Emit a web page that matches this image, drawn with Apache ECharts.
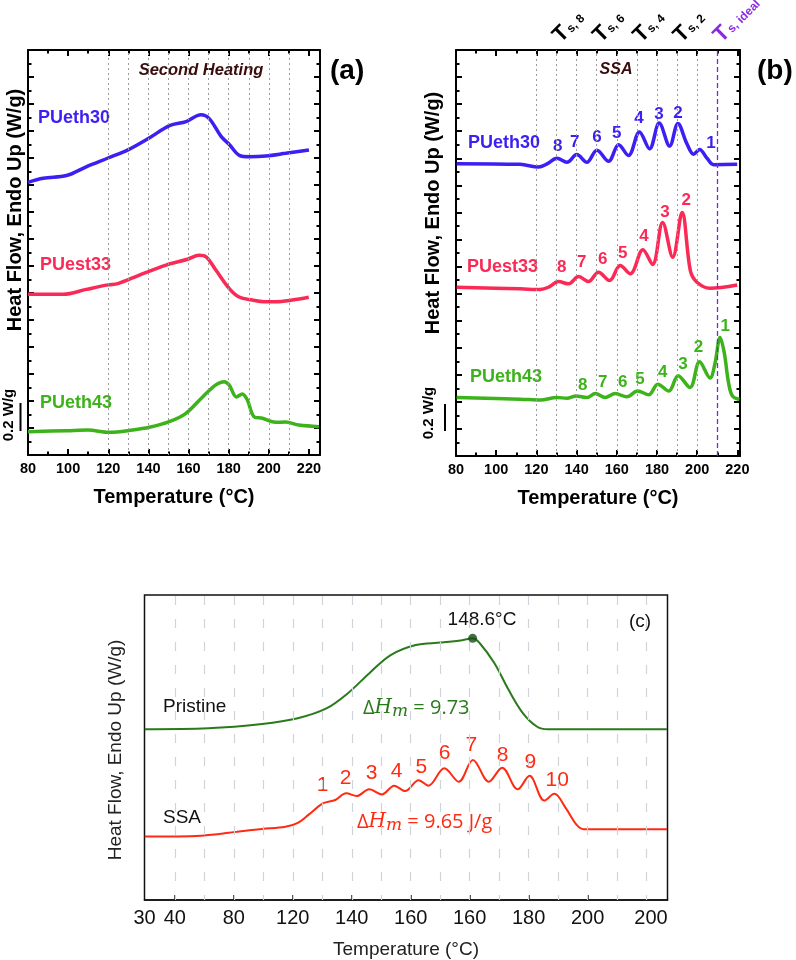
<!DOCTYPE html>
<html><head><meta charset="utf-8">
<script src="https://cdn.jsdelivr.net/npm/echarts@6/dist/echarts.min.js"></script>
<style>html,body{margin:0;padding:0;background:#fff}#c{width:796px;height:960px}</style>
</head><body><div id="c"></div><script>
// ---------- Panel (a): second heating ----------
const aEth30 = [[80,2.02],[87.6,2.05],[99.2,2.07],[109,2.135],[119.9,2.20],[129.8,2.26],[140.6,2.35],[150.5,2.44],[158.8,2.47],[166.2,2.52],[170.4,2.49],[176.2,2.36],[180.3,2.30],[185.3,2.22],[190.2,2.21],[198.5,2.215],[208.4,2.235],[220,2.26]];
const aEst33 = [[80,1.19],[97.5,1.19],[109.1,1.227],[119.9,1.26],[124.8,1.27],[135.5,1.333],[148.8,1.407],[159.5,1.45],[165.3,1.48],[168.6,1.47],[173.6,1.37],[180.2,1.235],[185.2,1.17],[191.8,1.148],[197.6,1.136],[203.4,1.136],[211.7,1.148],[219.9,1.168]];
const aEth43 = [[80,0.173],[99,0.18],[109.8,0.185],[120.6,0.168],[132.2,0.185],[140.5,0.205],[150.4,0.247],[158.7,0.309],[167,0.43],[173.6,0.519],[177.7,0.543],[180.2,0.519],[183.9,0.43],[186.8,0.452],[189.3,0.407],[192.6,0.284],[196.8,0.272],[203.4,0.242],[208.3,0.244],[215,0.222],[225,0.21]];
const aGridX = [120,130,140,150,160,170,180,190,200,210];

// ---------- Panel (b): SSA ----------
const bEth30 = [[80.3,2.16],[111.9,2.155],[121,2.135],[125.5,2.16],[130.2,2.20],[135.2,2.17],[140.1,2.227],[145.1,2.17],[150.1,2.26],[155.9,2.178],[160.9,2.30],[165.8,2.22],[171.3,2.395],[176.3,2.27],[181.1,2.46],[186.3,2.29],[190.4,2.457],[194.8,2.31],[198.2,2.23],[201.2,2.264],[204.9,2.20],[208.2,2.153],[219.9,2.155]];
const bEst33 = [[80.3,1.247],[111.9,1.235],[121.9,1.23],[126,1.247],[131,1.289],[136,1.272],[141,1.326],[145.9,1.289],[150.9,1.358],[156.4,1.296],[161.7,1.407],[166.7,1.346],[173,1.524],[177.8,1.415],[182.8,1.726],[187.8,1.469],[192.5,1.80],[196.6,1.37],[199.9,1.284],[206.3,1.24],[219.9,1.264]];
const bEth43 = [[80.3,0.432],[111.9,0.42],[122,0.413],[130.2,0.432],[135.2,0.427],[139.8,0.444],[145.1,0.432],[149.3,0.461],[154.2,0.432],[159.2,0.461],[165,0.437],[170.4,0.48],[175.9,0.452],[180.4,0.531],[185.9,0.48],[190.5,0.593],[196.4,0.506],[201.2,0.696],[206.4,0.576],[208.8,0.68],[211.4,0.876],[213.5,0.76],[215.5,0.55],[217.5,0.444],[221,0.418]];
const bPeakEth30 = [[130.6,2.289,'8'],[139.1,2.319,'7'],[150.1,2.356,'6'],[160.0,2.385,'5'],[171.0,2.496,'4'],[181.0,2.526,'3'],[190.4,2.533,'2'],[206.9,2.311,'1']];
const bPeakEst33 = [[132.6,1.393,'8'],[142.6,1.43,'7'],[153.0,1.452,'6'],[163.0,1.496,'5'],[173.5,1.622,'4'],[184.0,1.80,'3'],[194.5,1.889,'2']];
const bPeakEth43 = [[143.1,0.526,'8'],[153.0,0.541,'7'],[163.0,0.541,'6'],[171.5,0.563,'5'],[182.9,0.615,'4'],[192.9,0.674,'3'],[200.6,0.80,'2'],[214.0,0.956,'1']];
const bGridX = [120,130,140,150,160,170,180,190,200];
const bIdealX = 210;
const bTopVals = [130,150,170,190,210];
const bTopSubs = ['8','6','4','2','ideal'];

// ---------- Panel (c) ----------
const cPristine = [[29.8,56.0],[51.4,56.3],[69.6,57.7],[81.7,59.6],[91.4,62.8],[98.7,67.8],[105.9,74.3],[113.2,80.3],[121.7,83.6],[130.2,84.4],[137.5,85.2],[141.0,85.8],[143.5,84.1],[148.4,77.6],[153.2,68.9],[158.1,61.2],[162.9,56.8],[166.5,56.0],[206.9,56.0]];
const cSSA = [[29.8,20.8],[49,21.1],[61.1,22.4],[69.6,23.3],[77.5,24.0],[81.7,25.3],[85.3,27.9],[90.2,31.7],[94.4,32.8],[98.1,35.0],[101.7,34.1],[105.9,36.3],[110.2,34.6],[114.4,37.5],[118.1,35.7],[122.7,39.3],[126,37.5],[131.4,43.2],[136.3,38.8],[141.1,45.9],[146.5,38.8],[151,43.4],[156.3,36.3],[160.3,40.7],[165.3,32.6],[168.7,34.8],[172.6,30.1],[176.3,24.6],[178.7,23.2],[206.9,23.2]];
const cPeakPoint = [[141.0,85.8]];
const cPeakNums = [[90.1,37.7,'1'],[97.9,39.9,'2'],[106.7,41.5,'3'],[115.2,42.1,'4'],[123.6,43.7,'5'],[131.5,48.1,'6'],[140.6,50.8,'7'],[151.2,47.5,'8'],[160.6,45.3,'9'],[169.7,39.3,'10']];
const cTickVals = [29.7,40,60,80,100,120,140,160,180,201.5];
const cTickLabels = ['30','40','80','120','140','160','160','180','200','200'];
const cMajorTicks = [40,60,80,100,120,140,160,180];
const cGridX = [40,50,60,70,80,90,100,110,120,130,140,150,160,170,180,190,200];

// ---------- styling ----------
const F = "'Liberation Sans', Arial, sans-serif";
const BLUE = '#3c1ff2', RED = '#f92a55', GREEN = '#3cb31a', PURPLE = '#8a2be2', BROWN = '#3a0d0d';
const CGREEN = '#2a7a1c', CRED = '#ff2a12';

function xAB(grid, max, pos, show) {
  return {
    type: 'value', gridIndex: grid, position: pos, min: 80, max: max, interval: 20,
    axisLine: {show: true, onZero: false, lineStyle: {color: '#000', width: 2}},
    axisTick: {show: true, inside: true, length: 6, lineStyle: {color: '#000', width: 2}},
    minorTick: {show: true, splitNumber: 2, length: 3.5, lineStyle: {color: '#000', width: 2}},
    axisLabel: {show: show, color: '#000', fontFamily: F, fontWeight: 'bold', fontSize: 14.5, margin: 6},
    splitLine: {show: false},
    name: show ? 'Temperature (°C)' : '', nameLocation: 'middle', nameGap: 32,
    nameTextStyle: {color: '#000', fontFamily: F, fontWeight: 'bold', fontSize: 20}
  };
}
function yAB(grid, pos) {
  return {
    type: 'value', gridIndex: grid, position: pos, min: 0, max: 3, interval: 0.2,
    axisLine: {show: true, onZero: false, lineStyle: {color: '#000', width: 2}},
    axisTick: {show: true, inside: true, length: 6, lineStyle: {color: '#000', width: 2}},
    minorTick: {show: true, splitNumber: 2, length: 3.5, lineStyle: {color: '#000', width: 2}},
    axisLabel: {show: false}, splitLine: {show: false}
  };
}
function curve(xi, yi, data, color, w) {
  return {type: 'line', xAxisIndex: xi, yAxisIndex: yi, data: data, showSymbol: false, symbol: 'none',
    smooth: 0.35, lineStyle: {color: color, width: w}, z: 3, silent: true};
}
function gridLines(xi, yi, xs, style) {
  return {type: 'line', xAxisIndex: xi, yAxisIndex: yi, data: [], z: 1, silent: true,
    markLine: {silent: true, symbol: ['none', 'none'], label: {show: false}, animation: false,
      lineStyle: style, data: xs.map(v => ({xAxis: v}))}};
}
function peakLabels(xi, yi, data, color, size, weight) {
  return {type: 'scatter', xAxisIndex: xi, yAxisIndex: yi, data: data, symbolSize: 1,
    itemStyle: {color: 'rgba(0,0,0,0)'}, z: 4, silent: true,
    label: {show: true, position: 'inside', formatter: p => p.data[2], color: color, opacity: 1,
      textBorderWidth: 0, fontFamily: F, fontWeight: weight, fontSize: size}};
}

const topRich = {
  T: {fontSize: 22, fontWeight: 'bold', color: '#000', fontFamily: F},
  s: {fontSize: 12, fontWeight: 'bold', color: '#000', fontFamily: F, padding: [6, 0, 0, 1]},
  Tp: {fontSize: 22, fontWeight: 'bold', color: PURPLE, fontFamily: F},
  sp: {fontSize: 12, fontWeight: 'bold', color: PURPLE, fontFamily: F, padding: [6, 0, 0, 1]}
};

const option = {
  backgroundColor: '#fff',
  animation: false,
  grid: [
    {left: 28, top: 50, width: 292, height: 405, show: false, containLabel: false, outerBoundsMode: 'none'},
    {left: 456, top: 50, width: 284, height: 406, show: false, containLabel: false, outerBoundsMode: 'none'},
    {left: 144.5, top: 595, width: 523, height: 305, show: true, borderColor: '#111', borderWidth: 1.5, backgroundColor: 'transparent', containLabel: false, outerBoundsMode: 'none'}
  ],
  xAxis: [
    xAB(0, 225.5, 'bottom', true),
    xAB(0, 225.5, 'top', false),
    xAB(1, 221.3, 'bottom', true),
    Object.assign(xAB(1, 221.3, 'top', false), {
      axisLabel: {show: true, rotate: -45, margin: 11, customValues: bTopVals,
        formatter: v => { const i = bTopVals.indexOf(v); if (i < 0) return '';
          return i === bTopVals.length - 1 ? '{Tp|T}{sp|s, ' + bTopSubs[i] + '}' : '{T|T}{s|s, ' + bTopSubs[i] + '}'; },
        rich: topRich}
    }),
    {
      type: 'value', gridIndex: 2, position: 'bottom', min: 29.7, max: 207.1,
      axisLine: {show: true, onZero: false, lineStyle: {color: '#111', width: 1.5}},
      axisTick: {show: true, inside: true, length: 5, customValues: cMajorTicks, lineStyle: {color: '#111', width: 1.5}},
      axisLabel: {show: true, customValues: cTickVals, color: '#111', fontFamily: F, fontSize: 20, margin: 8,
        formatter: v => { const i = cTickVals.findIndex(t => Math.abs(t - v) < 1e-6); return i >= 0 ? cTickLabels[i] : ''; }},
      splitLine: {show: false},
      name: 'Temperature (°C)', nameLocation: 'middle', nameGap: 40,
      nameTextStyle: {color: '#222', fontFamily: F, fontSize: 19}
    }
  ],
  yAxis: [
    yAB(0, 'left'), yAB(0, 'right'), yAB(1, 'left'), yAB(1, 'right'),
    {type: 'value', gridIndex: 2, min: 0, max: 100, axisLine: {show: false}, axisTick: {show: false},
      axisLabel: {show: false}, splitLine: {show: false}}
  ],
  series: [
    gridLines(0, 0, aGridX, {color: '#9a9a9a', width: 1, type: [2, 3]}),
    gridLines(2, 2, bGridX, {color: '#9a9a9a', width: 1, type: [2, 3]}),
    gridLines(2, 2, [bIdealX], {color: '#7a28e0', width: 1.3, type: [5, 3]}),
    gridLines(4, 4, cGridX, {color: '#cfd4db', width: 1.2, type: [9, 14], dashOffset: 4}),
    curve(0, 0, aEth30, BLUE, 3.5),
    curve(0, 0, aEst33, RED, 3.5),
    curve(0, 0, aEth43, GREEN, 3.5),
    curve(2, 2, bEth30, BLUE, 3.5),
    curve(2, 2, bEst33, RED, 3.5),
    curve(2, 2, bEth43, GREEN, 3.5),
    peakLabels(2, 2, bPeakEth30, BLUE, 17, 'bold'),
    peakLabels(2, 2, bPeakEst33, RED, 17, 'bold'),
    peakLabels(2, 2, bPeakEth43, GREEN, 17, 'bold'),
    curve(4, 4, cPristine, CGREEN, 2),
    curve(4, 4, cSSA, CRED, 2),
    {type: 'scatter', xAxisIndex: 4, yAxisIndex: 4, data: cPeakPoint, symbolSize: 9, itemStyle: {color: '#174a17'}, z: 5, silent: true},
    peakLabels(4, 4, cPeakNums, CRED, 21, 'normal')
  ],
  graphic: [
    // panel (a)
    {type: 'text', x: 15, y: 210, rotation: Math.PI / 2, style: {text: 'Heat Flow, Endo Up (W/g)', x: 0, y: 0, fill: '#000', font: 'bold 20px ' + F, align: 'center', verticalAlign: 'middle', textAlign: 'center', textVerticalAlign: 'middle'}},
    {type: 'text', x: 9, y: 415, rotation: Math.PI / 2, style: {text: '0.2 W/g', x: 0, y: 0, fill: '#000', font: 'bold 15px ' + F, align: 'center', verticalAlign: 'middle', textAlign: 'center', textVerticalAlign: 'middle'}},
    {type: 'line', shape: {x1: 20.5, y1: 403, x2: 20.5, y2: 431}, style: {stroke: '#000', lineWidth: 2}},
    {type: 'text', x: 201, y: 70, style: {text: 'Second Heating', x: 0, y: 0, fill: BROWN, font: 'italic bold 16.5px ' + F, align: 'center', verticalAlign: 'middle', textAlign: 'center', textVerticalAlign: 'middle'}},
    {type: 'text', x: 38, y: 118, style: {text: 'PUeth30', x: 0, y: 0, fill: BLUE, font: 'bold 18px ' + F, align: 'left', verticalAlign: 'middle', textAlign: 'left', textVerticalAlign: 'middle'}},
    {type: 'text', x: 40, y: 265, style: {text: 'PUest33', x: 0, y: 0, fill: RED, font: 'bold 18px ' + F, align: 'left', verticalAlign: 'middle', textAlign: 'left', textVerticalAlign: 'middle'}},
    {type: 'text', x: 40, y: 403, style: {text: 'PUeth43', x: 0, y: 0, fill: GREEN, font: 'bold 18px ' + F, align: 'left', verticalAlign: 'middle', textAlign: 'left', textVerticalAlign: 'middle'}},
    {type: 'text', x: 330, y: 71, style: {text: '(a)', x: 0, y: 0, fill: '#000', font: 'bold 28px ' + F, align: 'left', verticalAlign: 'middle', textAlign: 'left', textVerticalAlign: 'middle'}},
    // panel (b)
    {type: 'text', x: 433, y: 213, rotation: Math.PI / 2, style: {text: 'Heat Flow, Endo Up (W/g)', x: 0, y: 0, fill: '#000', font: 'bold 20px ' + F, align: 'center', verticalAlign: 'middle', textAlign: 'center', textVerticalAlign: 'middle'}},
    {type: 'text', x: 429, y: 413, rotation: Math.PI / 2, style: {text: '0.2 W/g', x: 0, y: 0, fill: '#000', font: 'bold 15px ' + F, align: 'center', verticalAlign: 'middle', textAlign: 'center', textVerticalAlign: 'middle'}},
    {type: 'line', shape: {x1: 445, y1: 404, x2: 445, y2: 431}, style: {stroke: '#000', lineWidth: 2}},
    {type: 'text', x: 616, y: 70, style: {text: 'SSA', x: 0, y: 0, fill: BROWN, font: 'italic bold 16px ' + F, align: 'center', verticalAlign: 'middle', textAlign: 'center', textVerticalAlign: 'middle'}},
    {type: 'text', x: 468, y: 143, style: {text: 'PUeth30', x: 0, y: 0, fill: BLUE, font: 'bold 18px ' + F, align: 'left', verticalAlign: 'middle', textAlign: 'left', textVerticalAlign: 'middle'}},
    {type: 'text', x: 467, y: 267, style: {text: 'PUest33', x: 0, y: 0, fill: RED, font: 'bold 18px ' + F, align: 'left', verticalAlign: 'middle', textAlign: 'left', textVerticalAlign: 'middle'}},
    {type: 'text', x: 470, y: 377, style: {text: 'PUeth43', x: 0, y: 0, fill: GREEN, font: 'bold 18px ' + F, align: 'left', verticalAlign: 'middle', textAlign: 'left', textVerticalAlign: 'middle'}},
    {type: 'text', x: 757, y: 71, style: {text: '(b)', x: 0, y: 0, fill: '#000', font: 'bold 28px ' + F, align: 'left', verticalAlign: 'middle', textAlign: 'left', textVerticalAlign: 'middle'}},
    // panel (c)
    {type: 'text', x: 116, y: 750, rotation: Math.PI / 2, style: {text: 'Heat Flow, Endo Up (W/g)', x: 0, y: 0, fill: '#222', font: '19px ' + F, align: 'center', verticalAlign: 'middle', textAlign: 'center', textVerticalAlign: 'middle'}},
    {type: 'text', x: 482, y: 620, style: {text: '148.6°C', x: 0, y: 0, fill: '#111', font: '19px ' + F, align: 'center', verticalAlign: 'middle', textAlign: 'center', textVerticalAlign: 'middle'}},
    {type: 'text', x: 640, y: 622, style: {text: '(c)', x: 0, y: 0, fill: '#111', font: '19px ' + F, align: 'center', verticalAlign: 'middle', textAlign: 'center', textVerticalAlign: 'middle'}},
    {type: 'text', x: 163, y: 707, style: {text: 'Pristine', x: 0, y: 0, fill: '#111', font: '19px ' + F, align: 'left', verticalAlign: 'middle', textAlign: 'left', textVerticalAlign: 'middle'}},
    {type: 'text', x: 163, y: 818, style: {text: 'SSA', x: 0, y: 0, fill: '#111', font: '19px ' + F, align: 'left', verticalAlign: 'middle', textAlign: 'left', textVerticalAlign: 'middle'}},
    {type: 'text', x: 363, y: 708, style: {text: '{d|Δ}{i|H}{m|m}{d| = 9.73}', x: 0, y: 0, fill: CGREEN, align: 'left', verticalAlign: 'middle', textAlign: 'left', textVerticalAlign: 'middle',
      rich: {d: {fontSize: 20, fontFamily: "'Open Sans', Arial", color: CGREEN}, i: {fontSize: 20, fontStyle: 'italic', fontFamily: "'DejaVu Serif', serif", color: CGREEN}, m: {fontSize: 17, fontStyle: 'italic', fontFamily: "'DejaVu Serif', serif", color: CGREEN, padding: [8, 0, 0, 0]}}}},
    {type: 'text', x: 357, y: 822, style: {text: '{d|Δ}{i|H}{m|m}{d| = 9.65 J/g}', x: 0, y: 0, fill: CRED, align: 'left', verticalAlign: 'middle', textAlign: 'left', textVerticalAlign: 'middle',
      rich: {d: {fontSize: 20, fontFamily: "'Open Sans', Arial", color: CRED}, i: {fontSize: 20, fontStyle: 'italic', fontFamily: "'DejaVu Serif', serif", color: CRED}, m: {fontSize: 17, fontStyle: 'italic', fontFamily: "'DejaVu Serif', serif", color: CRED, padding: [8, 0, 0, 0]}}}}
  ]
};
const chart = echarts.init(document.getElementById('c'), null, {renderer: 'canvas'});
chart.setOption(option);
</script></body></html>
